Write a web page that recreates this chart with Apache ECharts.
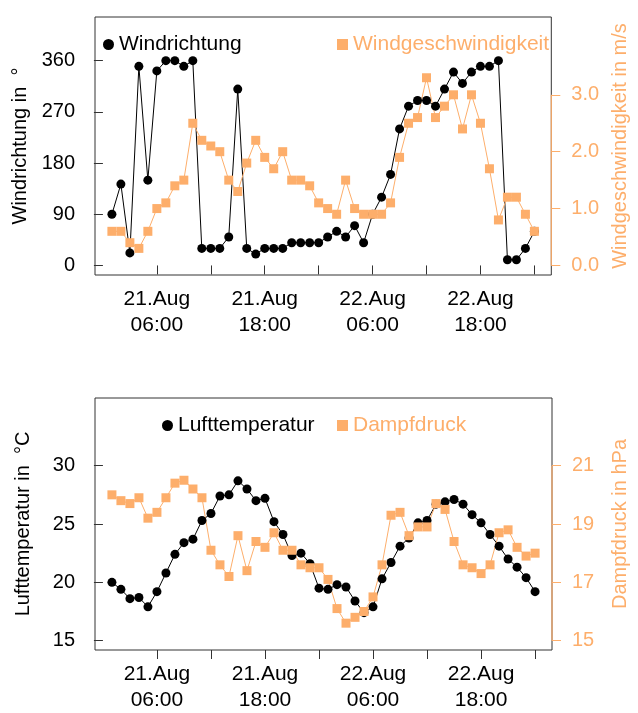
<!DOCTYPE html>
<html lang="de">
<head>
    <meta charset="UTF-8">
    <title>Wind und Temperatur</title>
    <script src="https://cdn.jsdelivr.net/npm/echarts@6.0.0/dist/echarts.min.js"></script>
    <style>
        html, body { margin: 0; padding: 0; background: #fff; }
        #main { width: 638px; height: 713px; }
    </style>
</head>
<body>
<div id="main"></div>
<script>
    // Stunden seit 21.Aug 00:00 (stündliche Messwerte)
    const hours = [1, 2, 3, 4, 5, 6, 7, 8, 9, 10, 11, 12, 13, 14, 15, 16, 17, 18, 19, 20, 21, 22, 23, 24,
        25, 26, 27, 28, 29, 30, 31, 32, 33, 34, 35, 36, 37, 38, 39, 40, 41, 42, 43, 44, 45, 46, 47, 48];

    const windDir = [90, 143, 22, 350, 150, 342, 360, 360, 350, 360,
        30, 30, 30, 50, 310, 30, 20, 30, 30, 30,
        40, 40, 40, 40, 50, 60, 50, 70, 40, 90,
        120, 160, 240, 280, 290, 290, 280, 310, 340, 320,
        340, 350, 350, 360, 10, 10, 30, 60];

    const windSpeed = [0.6, 0.6, 0.4, 0.3, 0.6, 1.0, 1.1, 1.4, 1.5, 2.5,
        2.2, 2.1, 2.0, 1.5, 1.3, 1.8, 2.2, 1.9, 1.7, 2.0,
        1.5, 1.5, 1.4, 1.1, 1.0, 0.9, 1.5, 1.0, 0.9, 0.9,
        0.9, 1.1, 1.9, 2.5, 2.6, 3.3, 2.6, 2.8, 3.0, 2.4,
        3.0, 2.5, 1.7, 0.8, 1.2, 1.2, 0.9, 0.6];

    const airTemp = [20.0, 19.4, 18.6, 18.7, 17.9, 19.2, 20.8, 22.4, 23.4, 23.7,
        25.3, 25.9, 27.4, 27.5, 28.7, 28.0, 27.0, 27.2, 25.2, 24.1,
        22.3, 22.5, 21.6, 19.5, 19.4, 19.8, 19.6, 18.4, 17.4, 17.9,
        20.3, 21.7, 23.1, 23.8, 25.1, 25.3, 26.7, 26.9, 27.1, 26.7,
        25.8, 25.1, 24.1, 23.1, 22.0, 21.3, 20.4, 19.2];

    const vapour = [20.0, 19.8, 19.7, 19.9, 19.2, 19.4, 19.9, 20.4, 20.5, 20.2,
        19.9, 18.1, 17.6, 17.2, 18.6, 17.4, 18.4, 18.2, 18.7, 18.1,
        18.1, 17.6, 17.5, 17.5, 17.1, 16.1, 15.6, 15.8, 16.0, 16.5,
        17.6, 19.3, 19.4, 18.6, 18.9, 18.9, 19.7, 19.5, 18.4, 17.6,
        17.5, 17.3, 17.6, 18.7, 18.8, 18.2, 17.9, 18.0];

    // Achsenbeschriftungen
    const xTicks = [6, 12, 18, 24, 30, 36, 42, 48];
    const xLabelHours = [6, 18, 30, 42];
    const xLabels = ['21.Aug\n06:00', '21.Aug\n18:00', '22.Aug\n06:00', '22.Aug\n18:00'];
    const dirTicks = [0, 90, 180, 270, 360];
    const speedTicks = [0, 1, 2, 3];
    const tempTicks = [15, 20, 25, 30];
    const vapTicks = [15, 17, 19, 21];

    const ORANGE = '#FDAE6B';
    const FONT = 'Liberation Sans, Arial, sans-serif';
    const FS = 20;

    const chart = echarts.init(document.getElementById('main'));

    function pairs(vals) {
        return hours.map((h, i) => [h, vals[i]]);
    }

    function xAxisFor(gridIndex) {
        return {
            type: 'value',
            gridIndex: gridIndex,
            min: -0.88,
            max: 49.88,
            axisLine: { show: false },
            splitLine: { show: false },
            axisTick: { show: true, length: 9, customValues: xTicks, lineStyle: { color: '#333' } },
            axisLabel: {
                customValues: xLabelHours,
                formatter: v => xLabels[xLabelHours.indexOf(v)],
                color: '#000', fontFamily: FONT, fontSize: 21, lineHeight: 26, margin: 11
            }
        };
    }

    function yAxisFor(gridIndex, pos, min, max, ticks, color, name, fmt, gap) {
        return {
            type: 'value',
            gridIndex: gridIndex,
            position: pos,
            min: min,
            max: max,
            name: name,
            nameLocation: 'middle',
            nameRotate: 90,
            nameGap: gap,
            nameTextStyle: { color: color, fontFamily: FONT, fontSize: FS },
            axisLine: { show: false },
            splitLine: { show: false },
            axisTick: { show: true, length: 9, customValues: ticks, lineStyle: { color: color === '#000' ? '#333' : color } },
            axisLabel: {
                customValues: ticks,
                formatter: fmt,
                color: color, fontFamily: FONT, fontSize: FS, margin: 20
            }
        };
    }

    function legendFor(name, icon, color, left, top) {
        return {
            data: [{ name: name, icon: icon }],
            left: left,
            top: top,
            itemWidth: 11,
            itemHeight: 11,
            itemGap: 0,
            textStyle: { color: color, fontFamily: FONT, fontSize: 21 },
            selectedMode: false
        };
    }

    function dotSeries(name, vals, x, y) {
        return {
            name: name, type: 'line', xAxisIndex: x, yAxisIndex: y,
            data: pairs(vals),
            symbol: 'circle', symbolSize: 9, showAllSymbol: true,
            itemStyle: { color: '#000' },
            lineStyle: { color: '#000', width: 1 },
            animation: false
        };
    }

    function squareSeries(name, vals, x, y) {
        return {
            name: name, type: 'line', xAxisIndex: x, yAxisIndex: y,
            data: pairs(vals),
            symbol: 'rect', symbolSize: 9, showAllSymbol: true,
            itemStyle: { color: ORANGE },
            lineStyle: { color: ORANGE, width: 1 },
            animation: false
        };
    }

    const option = {
        animation: false,
        grid: [
            { left: 95, right: 79, top: 17, height: 258, show: true, borderColor: '#333', borderWidth: 1, backgroundColor: 'transparent' },
            { left: 95, right: 79, top: 398, height: 257, show: true, borderColor: '#333', borderWidth: 1, backgroundColor: 'transparent' }
        ],
        legend: [
            legendFor('Windrichtung', 'circle', '#000', 98, 29),
            legendFor('Windgeschwindigkeit', 'rect', ORANGE, 332, 29),
            legendFor('Lufttemperatur', 'circle', '#000', 157, 410),
            legendFor('Dampfdruck', 'rect', ORANGE, 332, 410)
        ],
        xAxis: [xAxisFor(0), xAxisFor(1)],
        yAxis: [
            yAxisFor(0, 'left', -16.8, 436.8, dirTicks, '#000', 'Windrichtung in  °', v => String(v), 62),
            yAxisFor(0, 'right', -0.168, 4.368, speedTicks, ORANGE, 'Windgeschwindigkeit in m/s', v => v.toFixed(1), 58),
            yAxisFor(1, 'left', 14.2, 35.8, tempTicks, '#000', 'Lufttemperatur in  °C', v => String(v), 62),
            yAxisFor(1, 'right', 14.68, 23.32, vapTicks, ORANGE, 'Dampfdruck in hPa', v => String(v), 58)
        ],
        series: [
            dotSeries('Windrichtung', windDir, 0, 0),
            squareSeries('Windgeschwindigkeit', windSpeed, 0, 1),
            dotSeries('Lufttemperatur', airTemp, 1, 2),
            squareSeries('Dampfdruck', vapour, 1, 3)
        ]
    };

    chart.setOption(option);

    // rechte Achsenlinie in Orange nur über den Bereich der Ticks (wie in R)
    function axisSegment(seriesIndex, from, to) {
        const xMax = 49.88;
        const p0 = chart.convertToPixel({ seriesIndex: seriesIndex }, [xMax, from]);
        const p1 = chart.convertToPixel({ seriesIndex: seriesIndex }, [xMax, to]);
        return {
            type: 'line',
            shape: { x1: p0[0], y1: p0[1], x2: p1[0], y2: p1[1] },
            style: { stroke: ORANGE, lineWidth: 1.2 },
            z: 10
        };
    }

    chart.setOption({
        graphic: [
            axisSegment(1, speedTicks[0], speedTicks[speedTicks.length - 1]),
            axisSegment(3, vapTicks[0], vapTicks[vapTicks.length - 1])
        ]
    });
</script>
</body>
</html>
